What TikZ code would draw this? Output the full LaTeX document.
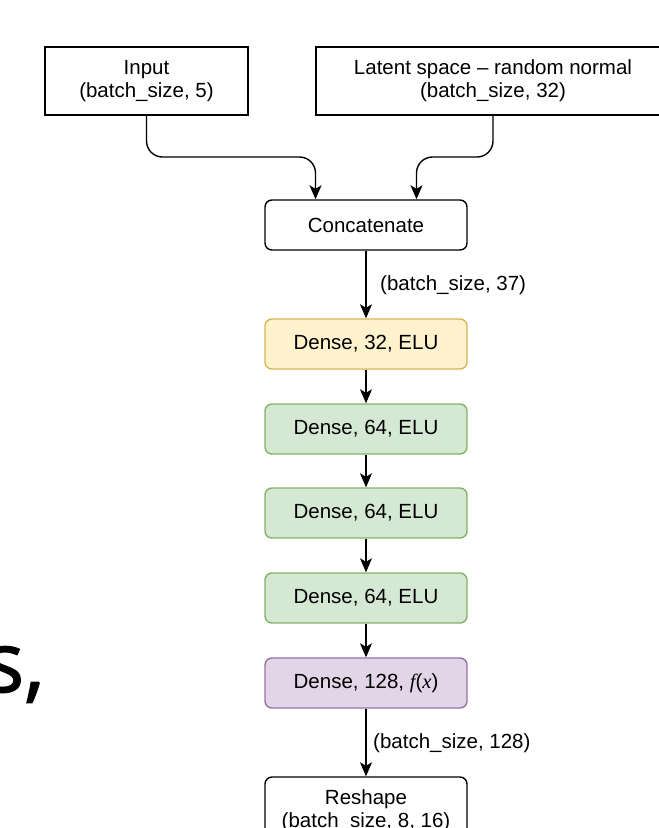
\documentclass[tikz,border=0pt]{standalone}
\usepackage{fontspec}
\setmainfont{Liberation Sans}
\newfontfamily\bigsans[FakeBold=1.3]{Open Sans}
\usetikzlibrary{arrows.meta}
\definecolor{yelfill}{HTML}{FFF2CC}
\definecolor{yelline}{HTML}{D6B656}
\definecolor{grnfill}{HTML}{D5E8D4}
\definecolor{grnline}{HTML}{82B366}
\definecolor{purfill}{HTML}{E1D5E7}
\definecolor{purline}{HTML}{9673A6}
\tikzset{
  txt/.style={font=\fontsize{20.5}{23}\selectfont},
  box/.style={draw=black, line width=1.4pt, minimum width=202pt, minimum height=50pt,
    inner sep=0pt, align=center, txt},
  rbox/.style={box, rounded corners=7pt},
  yelbox/.style={rbox, fill=yelfill, draw=yelline},
  grnbox/.style={rbox, fill=grnfill, draw=grnline},
  purbox/.style={rbox, fill=purfill, draw=purline},
  conn/.style={line width=1.4pt, -{Stealth[length=14pt,width=12pt,inset=3.5pt]}},
  lbl/.style={txt, inner sep=0pt, anchor=west},
}
\begin{document}
\begin{tikzpicture}[x=1pt,y=-1pt]
\useasboundingbox (0,0) rectangle (659,828);
\clip (0,0) rectangle (659,828);
\fill[white] (0,0) rectangle (659,828);

\node[font=\bigsans\fontsize{84}{90}\selectfont, inner sep=0pt, anchor=base west] (frag) at (-16,692) {s,};

\node[box, minimum width=203pt, minimum height=68pt] (inp) at (146.5,81) {Input\\(batch\_size, 5)};
\node[box, minimum width=356pt, minimum height=68pt] (lat) at (494,81) {};
\node[txt, align=center, inner sep=0pt] (lattxt) at (493,81) {Latent space -- random normal\\(batch\_size, 32)};

\node[rbox] (cat) at (366,225) {Concatenate};
\node[yelbox] (d1) at (366,344) {Dense, 32, ELU};
\node[grnbox] (d2) at (366,429) {Dense, 64, ELU};
\node[grnbox] (d3) at (366,513) {Dense, 64, ELU};
\node[grnbox] (d4) at (366,598) {Dense, 64, ELU};
\node[purbox] (d5) at (366,683) {Dense, 128, {\fontspec{Liberation Serif}\itshape f}({\fontspec{Liberation Serif}\itshape x})};
\node[rbox, minimum height=68pt] (rs) at (366,811) {Reshape\\(batch\_size, 8, 16)};

\draw[conn, rounded corners=16pt] (inp.south) |- (231,157) -| ([xshift=-50.5pt]cat.north);
\draw[conn, rounded corners=16pt] (inp.south -| lattxt) |- (455,157) -| ([xshift=50.5pt]cat.north);

\draw[conn] (cat) -- (d1);
\node[lbl] (l1) at (380,285) {(batch\_size, 37)};
\draw[conn] (d1) -- (d2);
\draw[conn] (d2) -- (d3);
\draw[conn] (d3) -- (d4);
\draw[conn] (d4) -- (d5);
\draw[conn] (d5) -- (rs);
\node[lbl] (l2) at (373,743) {(batch\_size, 128)};
\end{tikzpicture}
\end{document}
